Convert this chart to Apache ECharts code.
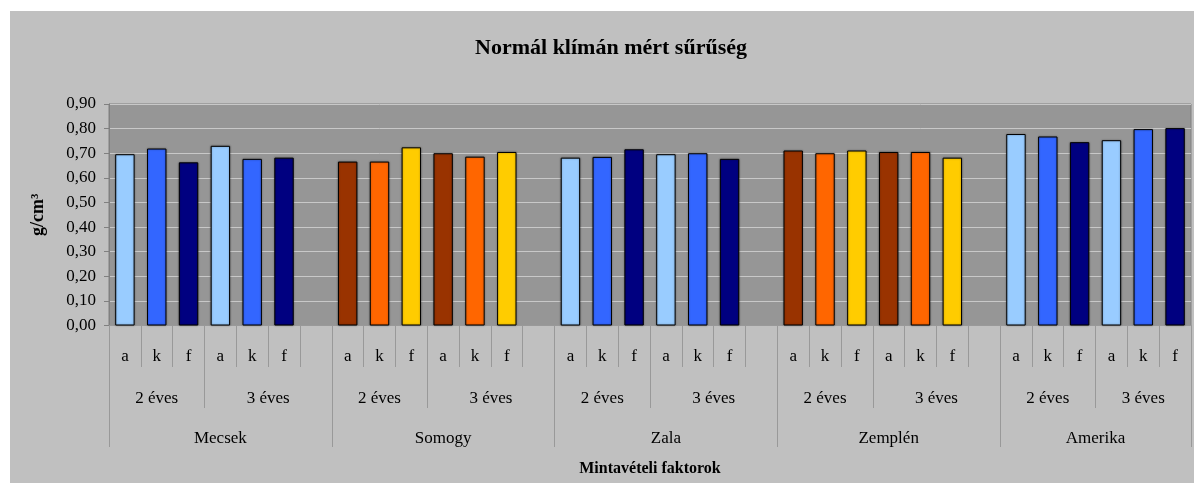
<!DOCTYPE html>
<html>
<head>
<meta charset="utf-8">
<script src="https://cdn.jsdelivr.net/npm/echarts@6/dist/echarts.min.js"></script>
<style>
  html, body { margin: 0; padding: 0; background: #ffffff; }
  #chart { position: absolute; left: 10px; top: 11px; width: 1184px; height: 472px; }
</style>
</head>
<body>
<div id="chart"></div>
<script>
// data
const groups = ['Mecsek', 'Somogy', 'Zala', 'Zemplén', 'Amerika'];
const ages = ['2 éves', '3 éves'];
const parts = ['a', 'k', 'f'];
const yTicks = ['0,00', '0,10', '0,20', '0,30', '0,40', '0,50', '0,60', '0,70', '0,80', '0,90'];

const mecsek  = [0.696, 0.719, 0.663, 0.730, 0.677, 0.682];
const somogy  = [0.666, 0.666, 0.724, 0.700, 0.686, 0.705];
const zala    = [0.682, 0.685, 0.716, 0.696, 0.700, 0.677];
const zemplen = [0.711, 0.700, 0.711, 0.705, 0.705, 0.682];
const amerika = [0.778, 0.768, 0.745, 0.753, 0.798, 0.802];

const blues = ['#99CCFF', '#3366FF', '#000080'];
const warms = ['#993300', '#FF6600', '#FFCC00'];

const groupValues = [mecsek, somogy, zala, zemplen, amerika];
const groupColors = [blues, warms, blues, warms, blues];

// category slots: 6 bars per group, one empty slot between groups
const cats = [];
const barData = [];
groupValues.forEach((vals, g) => {
  vals.forEach((v, i) => {
    cats.push(parts[i % 3]);
    barData.push({ value: v, itemStyle: { color: groupColors[g][i % 3] } });
  });
  if (g < groupValues.length - 1) {
    cats.push('');
    barData.push('-');
  }
});
const nSlots = cats.length; // 34

// helper axes in half-slot steps (boundaryGap false)
const nHalf = nSlots * 2 + 1;
const ageLabels = new Array(nHalf).fill('');
const groupLabels = new Array(nHalf).fill('');
const ageTicks = new Set();
const groupTicks = new Set();
groups.forEach((name, g) => {
  const s = g * 14;
  const end = g < groups.length - 1 ? s + 14 : nHalf - 1;
  ageLabels[s + 3] = ages[0];
  ageLabels[(s + 6 + end) / 2] = ages[1];
  groupLabels[(s + end) / 2] = name;
  ageTicks.add(s); ageTicks.add(s + 6); ageTicks.add(end);
  groupTicks.add(s); groupTicks.add(end);
});

const font = '"Liberation Serif", "DejaVu Serif", serif';
const lineCol = '#999999';

const chart = echarts.init(document.getElementById('chart'));
chart.setOption({
  backgroundColor: '#C0C0C0',
  animation: false,
  title: {
    text: 'Normál klímán mért sűrűség',
    left: 596,
    top: 21,
    textAlign: 'center',
    textStyle: { fontFamily: font, fontSize: 22, fontWeight: 'bold', color: '#000' }
  },
  grid: {
    left: 99, right: 2, top: 93, bottom: 157.5,
    show: true, backgroundColor: '#969696', borderColor: '#808080', borderWidth: 1
  },
  xAxis: [
    {
      type: 'category',
      data: cats,
      position: 'bottom',
      offset: 0,
      axisLine: { show: true, lineStyle: { color: lineCol } },
      axisTick: { show: true, interval: 0, length: 41.5, lineStyle: { color: lineCol } },
      axisLabel: { interval: 0, margin: 23, fontFamily: font, fontSize: 17, color: '#000' }
    },
    {
      type: 'category',
      data: ageLabels,
      boundaryGap: false,
      position: 'bottom',
      offset: 0,
      axisLine: { show: false },
      axisTick: { show: true, interval: (i) => ageTicks.has(i), length: 82.5, lineStyle: { color: lineCol } },
      axisLabel: { interval: 0, margin: 65, fontFamily: font, fontSize: 17, color: '#000' }
    },
    {
      type: 'category',
      data: groupLabels,
      boundaryGap: false,
      position: 'bottom',
      offset: 0,
      axisLine: { show: false },
      axisTick: { show: true, interval: (i) => groupTicks.has(i), length: 121.5, lineStyle: { color: lineCol } },
      axisLabel: { interval: 0, margin: 105, fontFamily: font, fontSize: 17, color: '#000' },
      name: 'Mintavételi faktorok',
      nameLocation: 'middle',
      nameGap: 135,
      nameTextStyle: { fontFamily: font, fontSize: 16, fontWeight: 'bold', color: '#000' }
    }
  ],
  yAxis: {
    type: 'value',
    min: 0,
    max: 0.9,
    interval: 0.1,
    name: 'g/cm³',
    nameLocation: 'middle',
    nameRotate: 90,
    nameGap: 62,
    nameTextStyle: { fontFamily: font, fontSize: 18, fontWeight: 'bold', color: '#000' },
    axisLine: { show: true, lineStyle: { color: '#808080' } },
    axisTick: { show: true, length: 5, lineStyle: { color: '#808080' } },
    axisLabel: {
      margin: 13,
      fontFamily: font,
      fontSize: 17,
      color: '#000',
      formatter: (v) => yTicks[Math.round(v * 10)]
    },
    splitLine: { show: true, lineStyle: { color: '#c8c8c8', width: 1 } }
  },
  series: [
    {
      type: 'bar',
      xAxisIndex: 0,
      data: barData,
      barWidth: '61%',
      itemStyle: { borderColor: '#000', borderWidth: 1, shadowColor: 'rgba(0,0,0,0.35)', shadowBlur: 2 }
    }
  ]
});
</script>
</body>
</html>
